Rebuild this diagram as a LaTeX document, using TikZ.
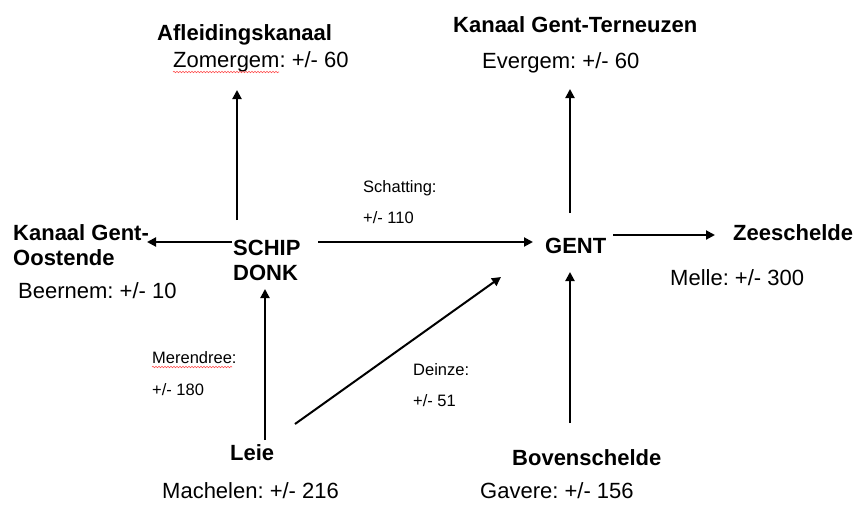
\documentclass[tikz,border=0pt]{standalone}
\usepackage{fontspec}
\setmainfont{Liberation Sans}
\usetikzlibrary{arrows.meta,decorations.pathmorphing}
\frenchspacing
\begin{document}
\begin{tikzpicture}[x=1pt,y=-1pt,
  lbl/.style={anchor=base west,inner sep=0pt,font=\fontsize{22}{25}\selectfont},
  ttl/.style={lbl,font=\fontsize{22}{25}\selectfont\bfseries},
  sml/.style={anchor=base west,inner sep=0pt,font=\fontsize{16.5}{19}\selectfont},
  arr/.style={line width=2pt,-{Triangle[length=9pt,width=9pt]}},
  squig/.style={red!70,line width=0.6pt,decorate,decoration={snake,amplitude=0.7pt,segment length=3pt}}]
\useasboundingbox (0,0) rectangle (854,504);
% labels
\node[ttl] (afl) at (157,40) {Afleidingskanaal};
\node[lbl] (zom) at (173,67) {Zomergem: +/- 60};
\node[ttl] (kgt) at (453,32) {Kanaal Gent-Terneuzen};
\node[lbl] (eve) at (482,68) {Evergem: +/- 60};
\node[ttl] (kgo1) at (13,240) {Kanaal Gent-};
\node[ttl] (kgo2) at (13,265) {Oostende};
\node[lbl] (bee) at (18,298) {Beernem: +/- 10};
\node[ttl] (schip) at (233,255) {SCHIP};
\node[ttl] (donk) at (233,280) {DONK};
\node[sml] (sch1) at (363,192) {Schatting:};
\node[sml] (sch2) at (363,223) {+/- 110};
\node[ttl] (gent) at (545,253) {GENT};
\node[ttl] (zee) at (733,240) {Zeeschelde};
\node[lbl] (mel) at (670,285) {Melle: +/- 300};
\node[sml] (mer1) at (152,363) {Merendree:};
\node[sml] (mer2) at (152,395) {+/- 180};
\node[sml] (dei1) at (413,375) {Deinze:};
\node[sml] (dei2) at (413,406) {+/- 51};
\node[ttl] (leie) at (230,460) {Leie};
\node[lbl] (mach) at (162,498) {Machelen: +/- 216};
\node[ttl] (bov) at (512,465) {Bovenschelde};
\node[lbl] (gav) at (480,498) {Gavere: +/- 156};
% spell-check squiggles
\draw[squig] ([shift={(0,5)}]zom.base west) -- ++(106,0);
\draw[squig] ([shift={(0,4)}]mer1.base west) -- ++(80,0);
% connectors
\draw[arr] ([shift={(4,-35)}]schip.base west) -- ([shift={(64,23)}]zom.base west);
\draw[arr] ([shift={(-1,-13)}]schip.base west) -- ([shift={(134,2)}]kgo1.base west);
\draw[arr] ([shift={(85,-13)}]schip.base west) -- ([shift={(-12,-11)}]gent.base west);
\draw[arr] ([shift={(25,-40)}]gent.base west) -- ([shift={(88,21)}]eve.base west);
\draw[arr] ([shift={(68,-18)}]gent.base west) -- ([shift={(-18,-5)}]zee.base west);
\draw[arr] ([shift={(35,-20)}]leie.base west) -- ([shift={(32,9)}]donk.base west);
\draw[arr] ([shift={(65,-36)}]leie.base west) -- ([shift={(-44,24)}]gent.base west);
\draw[arr] ([shift={(58,-42)}]bov.base west) -- ([shift={(25,19)}]gent.base west);
\end{tikzpicture}
\end{document}
